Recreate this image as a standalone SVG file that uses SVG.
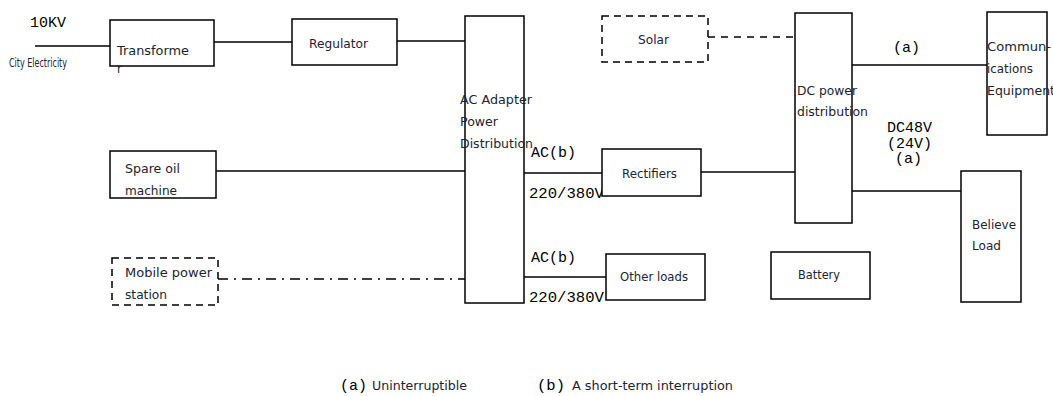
<svg xmlns="http://www.w3.org/2000/svg" width="1053" height="396" viewBox="0 0 1053 396">
<style>
.box{fill:#fff;stroke:#000;stroke-width:1.5}
.dbox{fill:#fff;stroke:#000;stroke-width:1.5;stroke-dasharray:7,5}
.ln{stroke:#000;stroke-width:1.5;fill:none}
.dash{stroke:#000;stroke-width:1.5;fill:none;stroke-dasharray:7,6}
.dashdot{stroke:#000;stroke-width:1.5;fill:none;stroke-dasharray:10,6,2,6}
.s{font-family:"DejaVu Sans",sans-serif;font-size:11.5px;fill:#1c2430}
.m{font-family:"Liberation Mono",monospace;font-size:15px;fill:#000}
</style>
<rect width="1053" height="396" fill="#fff"/>
<g id="connectors">
<line class="ln" x1="35" y1="46" x2="110" y2="46"/>
<line class="ln" x1="214" y1="42" x2="292" y2="42"/>
<line class="ln" x1="397" y1="41" x2="465" y2="41"/>
<line class="ln" x1="216" y1="171" x2="465" y2="171"/>
<line class="dashdot" x1="218" y1="279" x2="465" y2="279"/>
<line class="ln" x1="523" y1="173" x2="602" y2="173"/>
<line class="ln" x1="701" y1="172" x2="795" y2="172"/>
<line class="ln" x1="523" y1="277" x2="606" y2="277"/>
<line class="dash" x1="708" y1="37" x2="795" y2="37"/>
<line class="ln" x1="852" y1="65" x2="987" y2="65"/>
<line class="ln" x1="852" y1="191" x2="961" y2="191"/>
</g>
<g id="city">
<text class="m" x="30" y="27">10KV</text>
<text class="s" x="9" y="67" font-size="10.5" textLength="58" lengthAdjust="spacingAndGlyphs">City Electricity</text>
</g>
<g id="transformer">
<rect class="box" x="110" y="20" width="104" height="46"/>
<text class="s" x="117" y="55" textLength="72" lengthAdjust="spacingAndGlyphs">Transforme</text>
<text class="s" x="117" y="73">r</text>
</g>
<g id="regulator">
<rect class="box" x="292" y="19" width="105" height="46"/>
<text class="s" x="309" y="48" textLength="59" lengthAdjust="spacingAndGlyphs">Regulator</text>
</g>
<g id="ac-adapter">
<rect class="box" x="465" y="16" width="59" height="287"/>
<text class="s" x="460" y="104" textLength="72" lengthAdjust="spacingAndGlyphs">AC Adapter</text>
<text class="s" x="460" y="126" textLength="38" lengthAdjust="spacingAndGlyphs">Power</text>
<text class="s" x="460" y="148" textLength="73" lengthAdjust="spacingAndGlyphs">Distribution</text>
</g>
<g id="spare-oil">
<rect class="box" x="110" y="151" width="106" height="47"/>
<text class="s" x="125" y="173" textLength="55" lengthAdjust="spacingAndGlyphs">Spare oil</text>
<text class="s" x="125" y="195" textLength="52" lengthAdjust="spacingAndGlyphs">machine</text>
</g>
<g id="mobile">
<rect class="dbox" x="112" y="258" width="106" height="47"/>
<text class="s" x="125" y="277" textLength="87" lengthAdjust="spacingAndGlyphs">Mobile power</text>
<text class="s" x="125" y="299" textLength="42" lengthAdjust="spacingAndGlyphs">station</text>
</g>
<g id="ac-labels">
<text class="m" x="531" y="157">AC(b)</text>
<text class="m" x="529" y="198" textLength="75" lengthAdjust="spacingAndGlyphs">220/380V</text>
<text class="m" x="531" y="262">AC(b)</text>
<text class="m" x="529" y="302" textLength="75" lengthAdjust="spacingAndGlyphs">220/380V</text>
</g>
<g id="rectifiers">
<rect class="box" x="602" y="149" width="99" height="47"/>
<text class="s" x="622" y="178" textLength="55" lengthAdjust="spacingAndGlyphs">Rectifiers</text>
</g>
<g id="other-loads">
<rect class="box" x="606" y="254" width="99" height="46"/>
<text class="s" x="620" y="281" textLength="68" lengthAdjust="spacingAndGlyphs">Other loads</text>
</g>
<g id="solar">
<rect class="dbox" x="602" y="16" width="106" height="46"/>
<text class="s" x="638" y="44" textLength="31" lengthAdjust="spacingAndGlyphs">Solar</text>
</g>
<g id="dc-distribution">
<rect class="box" x="795" y="13" width="57" height="210"/>
<text class="s" x="797" y="95" textLength="60" lengthAdjust="spacingAndGlyphs">DC power</text>
<text class="s" x="797" y="116" textLength="71" lengthAdjust="spacingAndGlyphs">distribution</text>
</g>
<g id="dc-labels">
<text class="m" x="893" y="52">(a)</text>
<text class="m" x="887" y="132">DC48V</text>
<text class="m" x="887" y="148">(24V)</text>
<text class="m" x="895" y="163">(a)</text>
</g>
<g id="communications">
<rect class="box" x="987" y="12" width="60" height="123"/>
<text class="s" x="987" y="51" textLength="64" lengthAdjust="spacingAndGlyphs">Commun-</text>
<text class="s" x="987" y="73" textLength="46" lengthAdjust="spacingAndGlyphs">ications</text>
<text class="s" x="987" y="95" textLength="68" lengthAdjust="spacingAndGlyphs">Equipment</text>
</g>
<g id="believe-load">
<rect class="box" x="961" y="171" width="60" height="131"/>
<text class="s" x="972" y="229" textLength="44" lengthAdjust="spacingAndGlyphs">Believe</text>
<text class="s" x="972" y="250" textLength="29" lengthAdjust="spacingAndGlyphs">Load</text>
</g>
<g id="battery">
<rect class="box" x="771" y="252" width="99" height="47"/>
<text class="s" x="798" y="279" textLength="42" lengthAdjust="spacingAndGlyphs">Battery</text>
</g>
<g id="legend">
<text class="m" x="340" y="390" textLength="27" lengthAdjust="spacingAndGlyphs">(a)</text>
<text class="s" x="372" y="390" textLength="95" lengthAdjust="spacingAndGlyphs">Uninterruptible</text>
<text class="m" x="537" y="390" textLength="28" lengthAdjust="spacingAndGlyphs">(b)</text>
<text class="s" x="572" y="390" textLength="161" lengthAdjust="spacingAndGlyphs">A short-term interruption</text>
</g>
</svg>
